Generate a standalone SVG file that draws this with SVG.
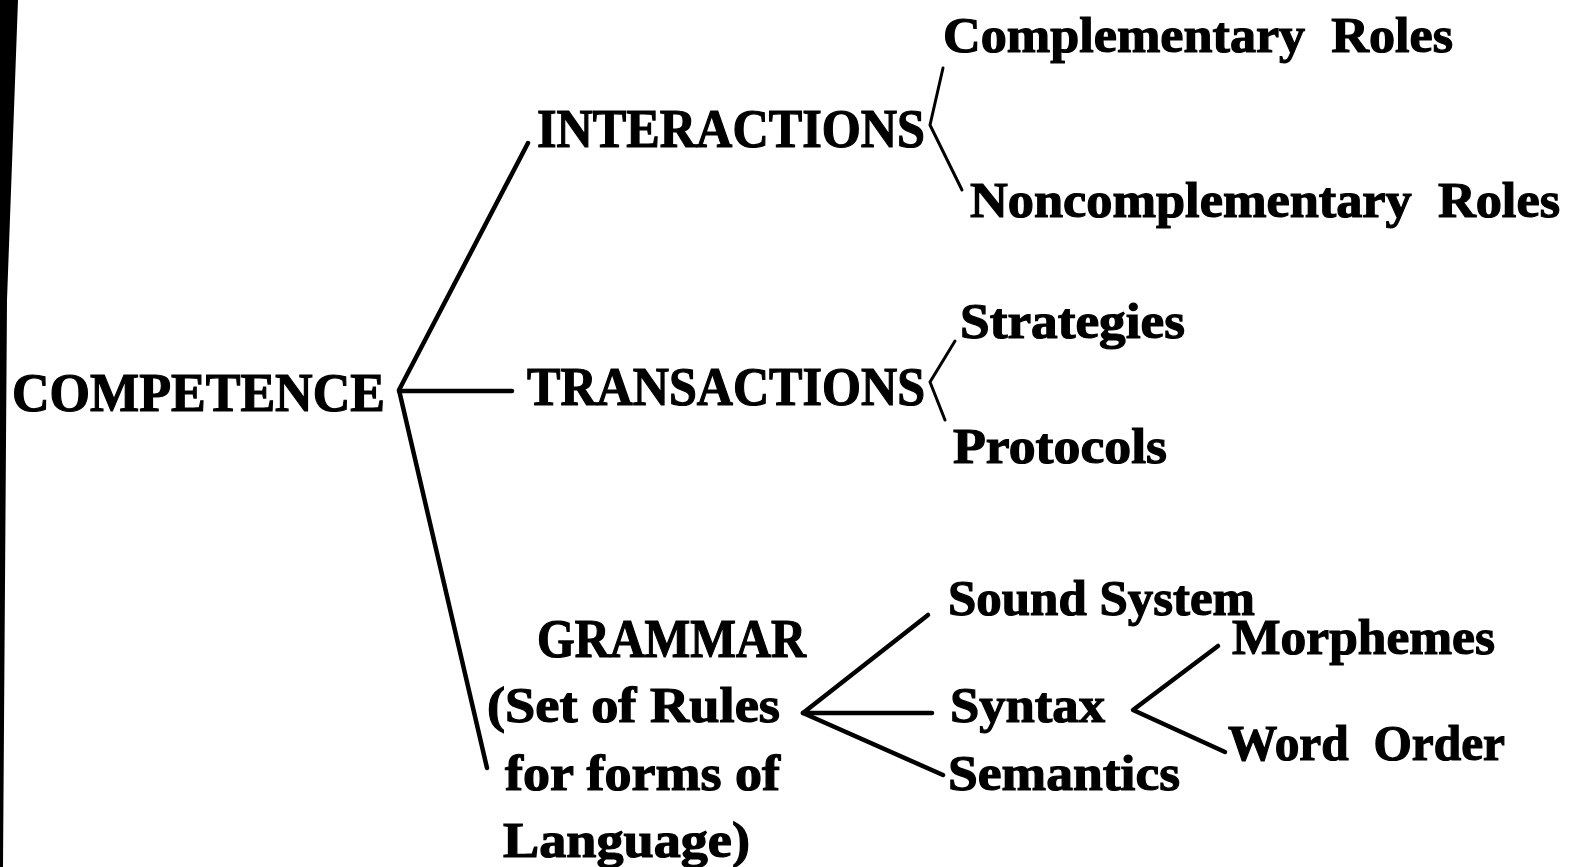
<svg xmlns="http://www.w3.org/2000/svg" width="1569" height="867" viewBox="0 0 1569 867">
<style>
text{font-family:"Liberation Serif","DejaVu Serif",serif;font-weight:bold;fill:#000;stroke:#000;stroke-width:1.2px}
.cap{font-size:55px}
.lc{font-size:51px}
.ln{stroke:#000;fill:none;stroke-linecap:round;stroke-linejoin:round}
.main{stroke-width:4.5}
.sub{stroke-width:3}
</style>
<rect x="0" y="0" width="1569" height="867" fill="#fff"/>
<polygon points="0,0 18,0 7,300 3,867 0,867" fill="#000"/>
<g id="connectors">
<polyline class="ln main" points="528,143 399,390 487,768"/>
<line class="ln main" x1="399" y1="391" x2="512" y2="391"/>
<polyline class="ln sub" points="943,68 930,125 962,190"/>
<polyline class="ln sub" points="955,341 930,382 945,420"/>
<polyline class="ln main" points="928,615 803,713 932,713"/>
<line class="ln main" x1="803" y1="713" x2="943" y2="775"/>
<polyline class="ln main" points="1218,646 1133,710 1225,752"/>
</g>
<g id="competence"><text class="cap" x="12" y="411" textLength="373" lengthAdjust="spacingAndGlyphs">COMPETENCE</text></g>
<g id="interactions"><text class="cap" x="537" y="147" textLength="388" lengthAdjust="spacingAndGlyphs">INTERACTIONS</text></g>
<g id="transactions"><text class="cap" x="527" y="405" textLength="398" lengthAdjust="spacingAndGlyphs">TRANSACTIONS</text></g>
<g id="grammar">
<text class="cap" x="537" y="657" textLength="269" lengthAdjust="spacingAndGlyphs">GRAMMAR</text>
<text class="lc" x="487" y="722" textLength="293" lengthAdjust="spacingAndGlyphs">(Set of Rules</text>
<text class="lc" x="505" y="790" textLength="275" lengthAdjust="spacingAndGlyphs">for forms of</text>
<text class="lc" x="503" y="857" textLength="247" lengthAdjust="spacingAndGlyphs">Language)</text>
</g>
<g id="complementary"><text class="lc" xml:space="preserve" x="943" y="52" textLength="510" lengthAdjust="spacingAndGlyphs">Complementary  Roles</text></g>
<g id="noncomplementary"><text class="lc" xml:space="preserve" x="970" y="217" textLength="590" lengthAdjust="spacingAndGlyphs">Noncomplementary  Roles</text></g>
<g id="strategies"><text class="lc" x="960" y="338" textLength="225" lengthAdjust="spacingAndGlyphs">Strategies</text></g>
<g id="protocols"><text class="lc" x="953" y="463" textLength="214" lengthAdjust="spacingAndGlyphs">Protocols</text></g>
<g id="sound"><text class="lc" x="948" y="615" textLength="307" lengthAdjust="spacingAndGlyphs">Sound System</text></g>
<g id="syntax"><text class="lc" x="950" y="722" textLength="155" lengthAdjust="spacingAndGlyphs">Syntax</text></g>
<g id="semantics"><text class="lc" x="948" y="790" textLength="232" lengthAdjust="spacingAndGlyphs">Semantics</text></g>
<g id="morphemes"><text class="lc" x="1232" y="654" textLength="263" lengthAdjust="spacingAndGlyphs">Morphemes</text></g>
<g id="wordorder"><text class="lc" xml:space="preserve" x="1228" y="760" textLength="277" lengthAdjust="spacingAndGlyphs">Word  Order</text></g>
</svg>
